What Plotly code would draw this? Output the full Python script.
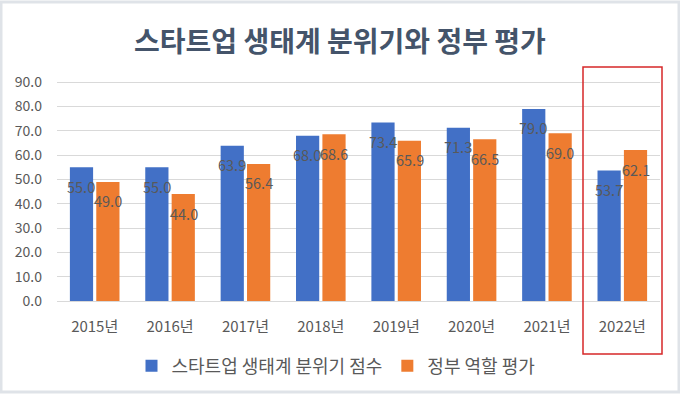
import plotly.graph_objects as go

categories = ["2015년", "2016년", "2017년", "2018년", "2019년", "2020년", "2021년", "2022년"]
eco_scores = [55.0, 55.0, 63.9, 68.0, 73.4, 71.3, 79.0, 53.7]
gov_scores = [49.0, 44.0, 56.4, 68.6, 65.9, 66.5, 69.0, 62.1]
series_names = ["스타트업 생태계 분위기 점수", "정부 역할 평가"]
y_ticks = [0, 10, 20, 30, 40, 50, 60, 70, 80, 90]

W, H = 680, 394
L, R, T, B = 57, 20, 81, 93
FONT = "Noto Sans CJK KR"
GRAY = "#595959"

fig = go.Figure()
fig.add_trace(go.Bar(x=categories, y=eco_scores, name=series_names[0],
                     marker=dict(color="#4270c6", line=dict(width=0))))
fig.add_trace(go.Bar(x=categories, y=gov_scores, name=series_names[1],
                     marker=dict(color="#ee7c30", line=dict(width=0))))

annotations = []
for vals, dx in ((eco_scores, -13.5), (gov_scores, 13.5)):
    for c, v in zip(categories, vals):
        annotations.append(dict(x=c, y=v, xref="x", yref="y", text=f"{v:.1f}",
                                showarrow=False, xshift=dx, yshift=-19,
                                font=dict(family=FONT, size=14.5, color=GRAY)))

pw = W - L - R
ph = H - T - B
def px_x(p):
    return (p - L) / pw
def px_y(p):
    return (H - B - p) / ph

annotations.append(dict(x=px_x(340), y=px_y(40), xref="paper", yref="paper", yanchor="middle",
                        xanchor="center", text="<b>스타트업 생태계 분위기와 정부 평가</b>",
                        showarrow=False, font=dict(family=FONT, size=28, color="#44546a")))

shapes = [
    dict(type="rect", xref="paper", yref="paper",
         x0=px_x(583), x1=px_x(662), y0=px_y(354), y1=px_y(67),
         line=dict(color="#d62728", width=1.5), fillcolor="rgba(0,0,0,0)"),
    dict(type="rect", xref="paper", yref="paper",
         x0=px_x(1), x1=px_x(W - 1), y0=px_y(H - 2), y1=px_y(2),
         line=dict(color="#dfe3e8", width=3), fillcolor="rgba(0,0,0,0)", layer="below"),
]

fig.update_layout(
    width=W, height=H,
    margin=dict(l=L, r=R, t=T, b=B, autoexpand=False),
    paper_bgcolor="white", plot_bgcolor="white",
    barmode="group", bargap=0.3, bargroupgap=0.12,
    font=dict(family=FONT, size=14, color=GRAY),
    showlegend=True,
    legend=dict(orientation="h", x=px_x(336), xanchor="center", y=px_y(366), yanchor="middle",
                font=dict(family=FONT, size=18, color=GRAY), itemwidth=30,
                traceorder="normal"),
    annotations=annotations,
    shapes=shapes,
    xaxis=dict(range=[-0.5, 7.5], showgrid=False, showline=True, linecolor="#d9d9d9",
               ticks="", tickfont=dict(family=FONT, size=15, color=GRAY),
               ticklabelstandoff=12, fixedrange=True),
    yaxis=dict(range=[0, 90.5], tickvals=y_ticks, ticktext=[f"{v:.1f}" for v in y_ticks],
               showgrid=True, gridcolor="#d9d9d9", gridwidth=1, zeroline=False,
               showline=False, ticks="", tickfont=dict(family=FONT, size=14, color=GRAY),
               ticklabelstandoff=14, fixedrange=True),
)

fig.write_html("out.html", config={"displayModeBar": False},
               post_script="document.body.style.margin='0';document.body.style.padding='0';")
